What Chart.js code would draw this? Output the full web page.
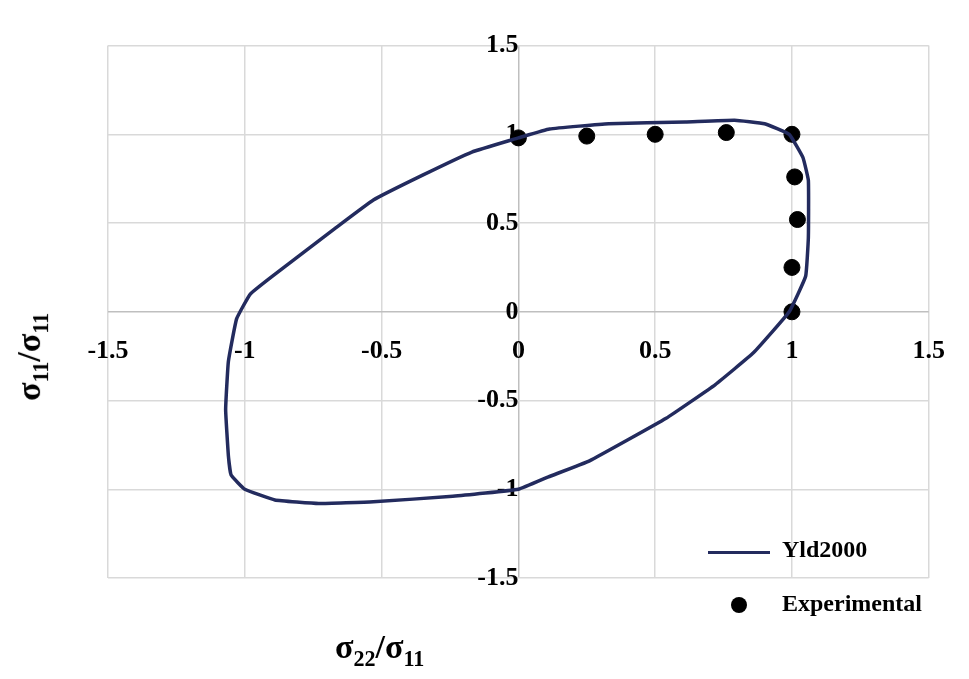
<!DOCTYPE html>
<html><head><meta charset="utf-8">
<script src="https://cdn.jsdelivr.net/npm/chart.js@4/dist/chart.umd.min.js"></script>
<style>
body{margin:0;background:#fff;font-family:"Liberation Serif","Times New Roman",serif;}
#wrap{position:relative;width:969px;height:679px;}
.t{position:absolute;font-weight:bold;color:#000;}
sub{font-size:0.65em;}
</style></head><body>
<div id="wrap"><canvas id="c" width="969" height="679"></canvas>
<div class="t" style="left:335px;top:628px;font-size:34px;">σ<sub>22</sub>/σ<sub>11</sub></div>
<div class="t" style="left:-38px;top:335px;font-size:34px;transform:rotate(-90deg);transform-origin:center;width:140px;text-align:center;">σ<sub>11</sub>/σ<sub>11</sub></div>
<div style="position:absolute;left:708px;top:551px;width:62px;height:3px;background:#232b5e"></div>
<div class="t" style="left:782px;top:536px;font-size:24px;">Yld2000</div>
<div style="position:absolute;left:731px;top:597px;width:16px;height:16px;border-radius:50%;background:#000"></div>
<div class="t" style="left:782px;top:590px;font-size:24px;">Experimental</div>
</div>
<script>
const curveX=[0,0.114,0.33,0.61,0.79,0.9,0.99,1.04,1.06,1.06,1.05,0.99,0.86,0.72,0.54,0.26,0.11,0,-0.24,-0.53,-0.73,-0.89,-1.0,-1.05,-1.06,-1.07,-1.06,-1.03,-0.98,-0.9,-0.67,-0.53,-0.35,-0.17,0];
const curveY=[0.98,1.03,1.06,1.07,1.08,1.06,1.0,0.87,0.74,0.42,0.2,0,-0.23,-0.41,-0.6,-0.84,-0.93,-1.0,-1.04,-1.07,-1.08,-1.06,-1.0,-0.92,-0.81,-0.55,-0.28,-0.04,0.1,0.2,0.47,0.63,0.77,0.9,0.98];
const expX=[0,0.25,0.5,0.76,1.0,1.01,1.02,1.0,1.0];
const expY=[0.98,0.99,1.0,1.01,1.0,0.76,0.52,0.25,0];
const ticks=[-1.5,-1,-0.5,0,0.5,1,1.5];
const font={family:"Liberation Serif",size:26,weight:"bold"};
new Chart(document.getElementById('c'),{type:'scatter',
data:{datasets:[
{label:'Yld2000',data:curveX.map((x,i)=>({x,y:curveY[i]})),showLine:true,borderColor:'#232b5e',borderWidth:3.5,pointRadius:0,tension:0.1,fill:false},
{label:'Experimental',data:expX.map((x,i)=>({x,y:expY[i]})),backgroundColor:'#000',borderColor:'#000',pointRadius:8}
]},
options:{responsive:false,animation:false,
layout:{padding:{left:108,right:15,top:12,bottom:101}},
plugins:{legend:{display:false},tooltip:{enabled:false}},
scales:{
x:{type:'linear',min:-1.5,max:1.5,position:{y:0},afterBuildTicks:s=>{s.ticks=ticks.map(v=>({value:v}));},
 grid:{color:c=>c.tick&&c.tick.value===0?'#bfbfbf':'#d9d9d9',lineWidth:1.5,drawTicks:false},border:{display:false},
 ticks:{font,color:'#000',padding:24,callback:v=>String(v)}},
y:{type:'linear',min:-1.5,max:1.5,position:{x:0},afterBuildTicks:s=>{s.ticks=ticks.map(v=>({value:v}));},
 grid:{color:c=>c.tick&&c.tick.value===0?'#bfbfbf':'#d9d9d9',lineWidth:1.5,drawTicks:false},border:{display:false},
 ticks:{font,color:'#000',padding:30,callback:v=>String(v)}}
}}});
</script></body></html>
